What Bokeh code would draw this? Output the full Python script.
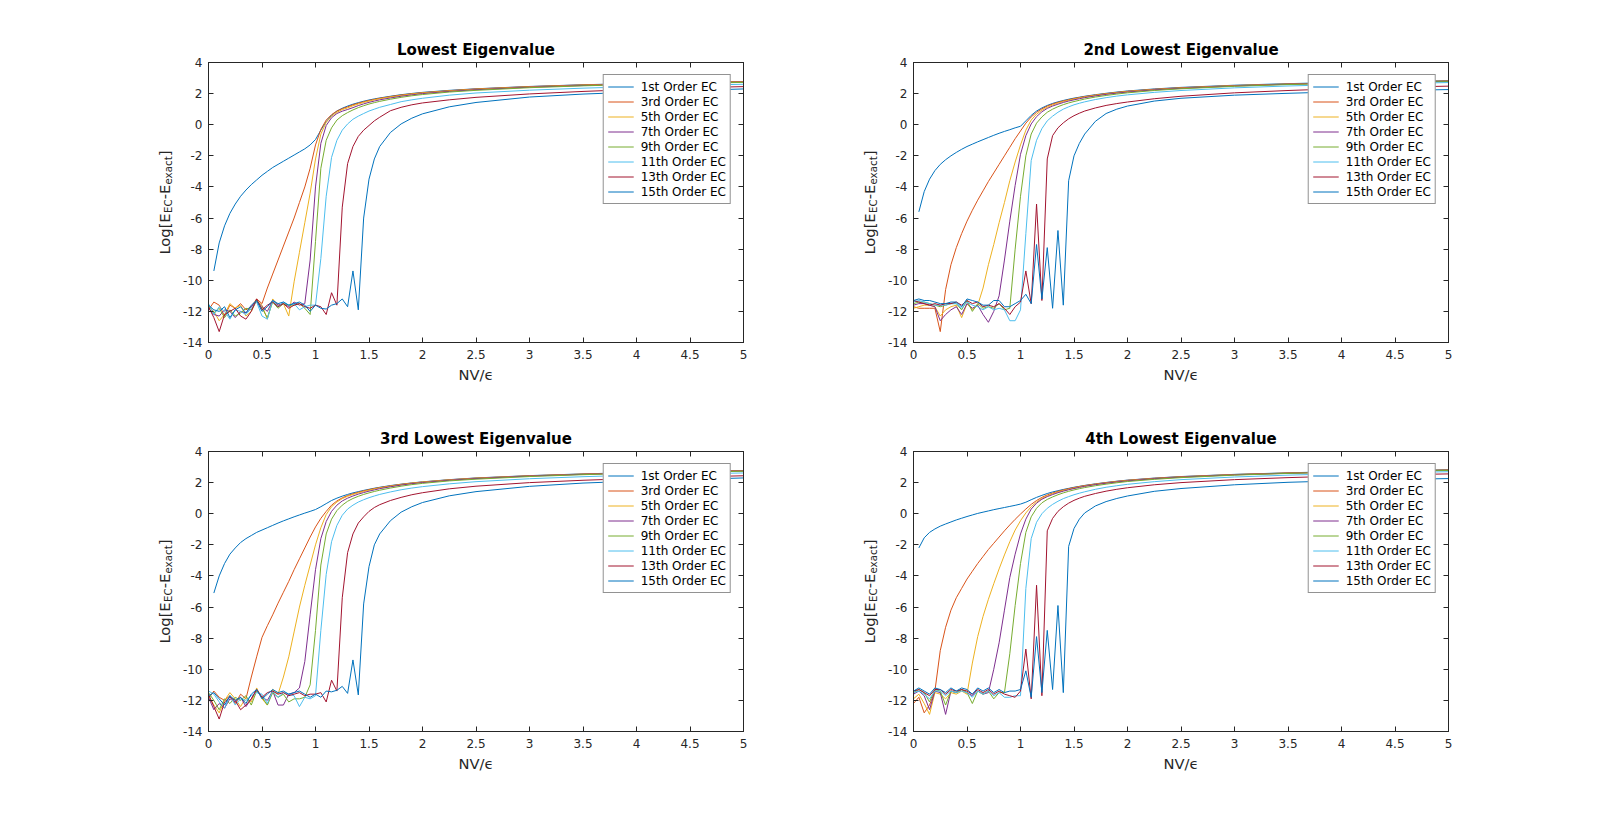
import math
from bokeh.plotting import figure
from bokeh.models import (Range1d, FixedTicker, LinearAxis, Legend, LegendItem,
                          CustomJSTickFormatter)
from bokeh.core.properties import value
from bokeh.layouts import column, row
from bokeh.embed import file_html
from bokeh.resources import INLINE

nan = float("nan")

# ---------------- data ----------------
X = [0.0, 0.05, 0.1, 0.15, 0.2, 0.25, 0.3, 0.35, 0.4, 0.45, 0.5,
     0.55, 0.6, 0.65, 0.7, 0.75, 0.8, 0.85, 0.9, 0.95, 1.0,
     1.05, 1.1, 1.15, 1.2, 1.25, 1.3, 1.35, 1.4, 1.45, 1.5, 1.55, 1.6,
     1.7, 1.8, 1.9, 2.0, 2.25, 2.5, 3.0, 3.5, 4.0, 4.5, 5.0]

ORDERS = ["1st Order EC", "3rd Order EC", "5th Order EC", "7th Order EC",
          "9th Order EC", "11th Order EC", "13th Order EC", "15th Order EC"]
COLORS = ["#0072BD", "#D95319", "#EDB120", "#7E2F8E",
          "#77AC30", "#4DBEEE", "#A2142F", "#0072BD"]
TITLES = ["Lowest Eigenvalue", "2nd Lowest Eigenvalue",
          "3rd Lowest Eigenvalue", "4th Lowest Eigenvalue"]

X_TICKS = [0, 0.5, 1, 1.5, 2, 2.5, 3, 3.5, 4, 4.5, 5]
X_TICK_LABELS = ["0", "0.5", "1", "1.5", "2", "2.5", "3", "3.5", "4", "4.5", "5"]
Y_TICKS = [-14, -12, -10, -8, -6, -4, -2, 0, 2, 4]
Y_TICK_LABELS = ["-14", "-12", "-10", "-8", "-6", "-4", "-2", "0", "2", "4"]
X_LABEL = "NV/\u03f5"
Y_LABEL_PARTS = [("Log[E", False), ("EC", True), ("-E", False), ("exact", True), ("]", False)]

# Panel 1: Lowest eigenvalue
P1_1 = [nan, -9.4, -7.6, -6.5, -5.7, -5.1, -4.6, -4.2, -3.85, -3.55, -3.25,
        -3.0, -2.75, -2.55, -2.35, -2.15, -1.95, -1.75, -1.55, -1.3, -0.95,
        -0.35, 0.2, 0.6, 0.88, 1.06, 1.2, 1.32, 1.42, 1.51, 1.59, 1.66, 1.72,
        1.83, 1.93, 2.01, 2.08, 2.21, 2.31, 2.46, 2.57, 2.65, 2.72, 2.78]
P1_3 = [-11.9, -11.4, -11.6, -12.3, -11.6, -11.8, -11.5, -11.9, -11.7, -11.2, -11.5,
        -10.5, -9.6, -8.7, -7.8, -6.9, -6.0, -5.0, -4.0, -2.8, -1.3,
        -0.3, 0.3, 0.65, 0.88, 1.03, 1.15, 1.28, 1.38, 1.48, 1.56, 1.63, 1.7,
        1.81, 1.91, 1.99, 2.06, 2.19, 2.3, 2.45, 2.56, 2.64, 2.71, 2.77]
P1_5 = [-11.7, -12.0, -12.6, -12.2, -11.5, -11.8, -11.6, -12.3, -12.0, -11.3, -11.6,
        -12.5, -11.2, -11.6, -11.5, -12.3, -10.1, -8.2, -6.3, -4.4, -2.2,
        -0.6, 0.15, 0.55, 0.8, 0.97, 1.08, 1.22, 1.33, 1.43, 1.52, 1.6, 1.67,
        1.78, 1.88, 1.97, 2.04, 2.17, 2.28, 2.43, 2.54, 2.63, 2.7, 2.76]
P1_7 = [-11.8, -12.2, -12.3, -11.9, -12.0, -12.4, -12.0, -12.1, -11.7, -11.3, -11.7,
        -12.0, -11.3, -11.6, -11.5, -11.7, -11.4, -11.6, -11.5, -8.7, -4.0,
        -1.2, -0.05, 0.45, 0.72, 0.87, 0.98, 1.1, 1.23, 1.34, 1.44, 1.52, 1.6,
        1.72, 1.83, 1.92, 2.0, 2.14, 2.25, 2.41, 2.52, 2.61, 2.68, 2.74]
P1_9 = [-11.6, -12.1, -11.8, -12.4, -11.9, -12.3, -12.1, -11.8, -11.9, -11.3, -11.8,
        -12.4, -11.4, -11.8, -11.5, -11.6, -11.6, -11.5, -11.8, -12.2, -7.5,
        -2.8, -1.0, -0.2, 0.3, 0.58, 0.78, 0.95, 1.1, 1.22, 1.33, 1.42, 1.5,
        1.64, 1.76, 1.86, 1.94, 2.1, 2.21, 2.38, 2.5, 2.59, 2.66, 2.72]
P1_11 = [-11.5, -12.2, -11.7, -12.0, -12.5, -11.9, -12.0, -12.2, -11.8, -11.4, -12.3,
         -12.5, -11.3, -11.7, -11.4, -11.6, -11.5, -11.9, -11.7, -11.6, -11.6,
         -8.6, -4.6, -2.1, -1.0, -0.35, 0.05, 0.35, 0.55, 0.72, 0.88, 1.0, 1.12,
         1.3, 1.48, 1.6, 1.7, 1.9, 2.04, 2.22, 2.35, 2.45, 2.53, 2.6]
P1_13 = [-11.7, -12.4, -13.3, -12.2, -12.0, -11.8, -12.3, -12.5, -12.0, -11.2, -11.9,
         -11.6, -11.4, -11.7, -11.5, -11.8, -11.6, -11.5, -11.7, -11.8, -11.6,
         -11.7, -12.2, -10.8, -11.6, -5.3, -2.5, -1.4, -0.75, -0.35, -0.05, 0.25, 0.48,
         0.9, 1.12, 1.28, 1.4, 1.6, 1.76, 1.98, 2.14, 2.27, 2.37, 2.45]
P1_15 = [-11.6, -11.9, -12.0, -11.7, -12.4, -11.9, -11.7, -12.1, -11.6, -11.3, -12.0,
         -11.7, -11.3, -11.5, -11.4, -11.6, -11.5, -11.4, -11.6, -12.0, -11.6,
         -11.8, -11.85, -11.6, -11.5, -11.2, -11.7, -9.4, -11.9, -6.0, -3.5, -2.2, -1.4,
         -0.5, 0.05, 0.42, 0.7, 1.15, 1.43, 1.78, 1.97, 2.1, 2.2, 2.3]

# Panel 2: 2nd lowest eigenvalue
P2_1 = [nan, -5.6, -4.3, -3.5, -2.95, -2.55, -2.25, -2.0, -1.78, -1.58, -1.4,
        -1.25, -1.1, -0.96, -0.82, -0.68, -0.55, -0.43, -0.32, -0.2, -0.1,
        0.25, 0.6, 0.88, 1.08, 1.24, 1.37, 1.47, 1.56, 1.64, 1.71, 1.77, 1.83,
        1.93, 2.02, 2.1, 2.17, 2.3, 2.4, 2.54, 2.64, 2.72, 2.78, 2.83]
P2_3 = [-11.7, -11.8, -11.8, -11.8, -11.8, -13.3, -10.6, -9.0, -7.9, -7.0, -6.2,
        -5.5, -4.85, -4.25, -3.65, -3.1, -2.55, -2.0, -1.45, -0.9, -0.4,
        0.1, 0.5, 0.8, 1.02, 1.2, 1.33, 1.44, 1.53, 1.61, 1.68, 1.75, 1.81,
        1.91, 2.0, 2.08, 2.15, 2.28, 2.38, 2.52, 2.62, 2.7, 2.76, 2.81]
P2_5 = [-11.8, -11.7, -11.6, -11.6, -11.7, -12.3, -11.9, -11.7, -11.6, -12.4, -11.5,
        -11.9, -11.6, -10.5, -9.0, -7.7, -6.3, -5.0, -3.6, -2.4, -1.3,
        -0.35, 0.3, 0.68, 0.93, 1.12, 1.27, 1.39, 1.49, 1.57, 1.65, 1.72, 1.78,
        1.89, 1.98, 2.06, 2.13, 2.26, 2.36, 2.51, 2.61, 2.69, 2.75, 2.8]
P2_7 = [-11.6, -11.5, -11.5, -11.6, -11.7, -12.6, -12.2, -11.9, -11.7, -12.2, -11.5,
        -11.8, -11.6, -12.2, -12.7, -12.0, -11.0, -8.7, -6.2, -3.9, -1.9,
        -0.7, 0.05, 0.52, 0.83, 1.05, 1.2, 1.32, 1.43, 1.52, 1.6, 1.67, 1.74,
        1.85, 1.95, 2.03, 2.1, 2.24, 2.34, 2.49, 2.6, 2.68, 2.74, 2.79]
P2_9 = [-11.5, -11.4, -11.4, -11.5, -11.6, -11.7, -11.6, -11.5, -11.5, -11.9, -11.3,
        -12.0, -11.5, -11.8, -11.7, -11.8, -11.5, -11.9, -11.8, -8.0, -4.6,
        -2.0, -0.6, 0.1, 0.5, 0.8, 1.0, 1.16, 1.29, 1.4, 1.49, 1.57, 1.65,
        1.78, 1.88, 1.97, 2.05, 2.2, 2.31, 2.47, 2.58, 2.66, 2.72, 2.77]
P2_11 = [-11.4, -11.3, -11.4, -11.5, -11.6, -11.6, -11.6, -11.5, -11.5, -11.8, -11.4,
         -11.6, -11.7, -11.9, -11.7, -11.9, -11.8, -11.9, -12.6, -12.6, -11.9,
         -7.0, -2.3, -1.0, -0.25, 0.25, 0.55, 0.8, 1.0, 1.15, 1.28, 1.38, 1.47,
         1.62, 1.74, 1.84, 1.92, 2.08, 2.2, 2.37, 2.49, 2.58, 2.65, 2.71]
P2_13 = [-11.3, -11.4, -11.5, -11.6, -11.5, -11.6, -11.5, -11.5, -11.4, -11.6, -11.3,
         -11.5, -11.4, -11.7, -11.6, -11.7, -11.5, -11.8, -12.2, -11.7, -11.4,
         -9.4, -11.5, -5.1, -11.3, -2.2, -0.7, -0.2, 0.12, 0.38, 0.58, 0.74, 0.88,
         1.08, 1.24, 1.36, 1.46, 1.67, 1.83, 2.05, 2.2, 2.32, 2.41, 2.48]
P2_15 = [-11.3, -11.2, -11.3, -11.3, -11.4, -11.5, -11.5, -11.4, -11.4, -11.7, -11.2,
         -11.3, -11.4, -11.6, -11.6, -11.3, -11.3, -11.7, -11.7, -11.5, -11.3,
         -10.9, -11.5, -7.7, -11.2, -7.9, -11.8, -6.8, -11.6, -3.6, -2.0, -1.2, -0.6,
         0.22, 0.72, 1.0, 1.2, 1.52, 1.7, 1.9, 2.02, 2.12, 2.2, 2.26]

# Panel 3: 3rd lowest eigenvalue
P3_1 = [nan, -5.1, -4.0, -3.2, -2.6, -2.2, -1.85, -1.6, -1.4, -1.2, -1.05,
        -0.9, -0.75, -0.6, -0.46, -0.33, -0.2, -0.08, 0.04, 0.15, 0.27,
        0.45, 0.65, 0.85, 1.0, 1.13, 1.24, 1.34, 1.42, 1.5, 1.57, 1.64, 1.7,
        1.81, 1.9, 1.98, 2.05, 2.19, 2.3, 2.45, 2.56, 2.65, 2.72, 2.78]
P3_3 = [-11.9, -11.4, -11.8, -12.0, -11.7, -12.2, -11.6, -11.9, -10.5, -9.2, -7.95,
        -7.2, -6.5, -5.75, -5.05, -4.35, -3.6, -2.9, -2.2, -1.5, -0.85,
        -0.3, 0.15, 0.55, 0.82, 1.02, 1.17, 1.28, 1.38, 1.47, 1.55, 1.62, 1.68,
        1.79, 1.89, 1.97, 2.04, 2.18, 2.29, 2.44, 2.55, 2.64, 2.71, 2.77]
P3_5 = [-11.7, -12.3, -12.8, -12.0, -11.5, -11.9, -12.4, -11.8, -12.1, -11.2, -11.9,
        -12.3, -11.3, -11.6, -10.5, -9.2, -7.6, -6.0, -4.6, -3.3, -2.0,
        -0.9, -0.05, 0.45, 0.75, 0.97, 1.12, 1.24, 1.34, 1.43, 1.51, 1.59, 1.66,
        1.77, 1.87, 1.96, 2.03, 2.17, 2.28, 2.43, 2.54, 2.63, 2.7, 2.76]
P3_7 = [-11.8, -12.6, -12.2, -12.5, -11.9, -12.1, -11.8, -12.4, -11.9, -11.3, -11.8,
        -12.0, -11.4, -12.3, -12.3, -11.6, -11.5, -11.2, -9.5, -6.5, -3.6,
        -1.6, -0.5, 0.15, 0.55, 0.82, 1.0, 1.14, 1.26, 1.36, 1.45, 1.53, 1.61,
        1.73, 1.84, 1.93, 2.0, 2.15, 2.26, 2.42, 2.53, 2.62, 2.69, 2.75]
P3_9 = [-11.5, -12.0, -12.6, -11.9, -12.2, -11.8, -12.0, -11.7, -12.3, -11.4, -11.8,
        -12.3, -11.5, -11.8, -11.6, -12.1, -11.9, -11.9, -11.8, -11.0, -7.5,
        -3.3, -1.3, -0.35, 0.2, 0.55, 0.8, 0.98, 1.12, 1.24, 1.34, 1.43, 1.51,
        1.65, 1.77, 1.87, 1.95, 2.11, 2.22, 2.39, 2.51, 2.6, 2.67, 2.73]
P3_11 = [-11.4, -11.6, -12.1, -12.5, -11.7, -12.3, -11.9, -12.0, -11.7, -11.5, -11.6,
         -12.2, -11.4, -11.8, -11.5, -11.6, -11.7, -12.4, -11.8, -11.9, -11.7,
         -7.5, -3.9, -1.8, -0.75, -0.1, 0.3, 0.55, 0.75, 0.9, 1.03, 1.14, 1.24,
         1.4, 1.54, 1.65, 1.74, 1.92, 2.06, 2.25, 2.38, 2.48, 2.56, 2.62]
P3_13 = [-11.6, -12.4, -13.2, -12.1, -11.8, -12.0, -12.6, -12.3, -11.9, -11.3, -11.8,
         -11.5, -11.4, -11.6, -11.5, -11.7, -11.6, -11.5, -11.7, -11.6, -11.6,
         -11.5, -12.1, -10.7, -11.4, -5.4, -2.5, -1.3, -0.6, -0.2, 0.15, 0.4, 0.58,
         0.85, 1.05, 1.22, 1.35, 1.6, 1.77, 2.0, 2.15, 2.27, 2.36, 2.44]
P3_15 = [-11.7, -11.5, -11.9, -12.3, -11.7, -12.0, -11.8, -12.2, -11.6, -11.3, -11.9,
         -11.6, -11.3, -11.5, -11.4, -11.6, -11.5, -11.4, -11.6, -11.8, -11.6,
         -11.8, -11.4, -11.45, -11.35, -11.1, -11.55, -9.4, -11.65, -5.8, -3.4, -2.0, -1.3,
         -0.45, 0.1, 0.45, 0.72, 1.15, 1.42, 1.76, 1.97, 2.1, 2.2, 2.3]

# Panel 4: 4th lowest eigenvalue
P4_1 = [nan, -2.2, -1.55, -1.2, -0.98, -0.8, -0.66, -0.53, -0.4, -0.29, -0.18,
        -0.08, 0.02, 0.1, 0.18, 0.26, 0.33, 0.4, 0.47, 0.54, 0.62,
        0.74, 0.9, 1.05, 1.18, 1.3, 1.4, 1.48, 1.56, 1.63, 1.7, 1.76, 1.82,
        1.92, 2.01, 2.09, 2.16, 2.29, 2.39, 2.53, 2.63, 2.71, 2.77, 2.83]
P4_3 = [-12.2, -11.8, -12.8, -12.3, -11.4, -8.8, -7.3, -6.2, -5.4, -4.8, -4.2,
        -3.7, -3.2, -2.75, -2.3, -1.9, -1.5, -1.1, -0.72, -0.36, -0.02,
        0.3, 0.6, 0.85, 1.05, 1.21, 1.33, 1.44, 1.53, 1.61, 1.68, 1.75, 1.81,
        1.91, 2.0, 2.08, 2.15, 2.28, 2.38, 2.52, 2.62, 2.7, 2.76, 2.81]
P4_5 = [-11.9, -11.6, -12.2, -12.9, -11.5, -11.6, -11.9, -11.5, -11.6, -11.4, -11.6,
        -9.6, -7.9, -6.6, -5.5, -4.5, -3.55, -2.65, -1.8, -1.05, -0.45,
        0.05, 0.45, 0.75, 0.98, 1.15, 1.28, 1.39, 1.49, 1.57, 1.65, 1.72, 1.78,
        1.89, 1.98, 2.06, 2.13, 2.26, 2.36, 2.51, 2.61, 2.69, 2.75, 2.8]
P4_7 = [-11.6, -11.4, -11.7, -12.6, -11.4, -11.5, -12.9, -11.4, -11.5, -11.3, -11.5,
        -11.7, -11.4, -11.6, -11.5, -10.0, -8.3, -6.2, -4.1, -2.6, -1.3,
        -0.35, 0.3, 0.68, 0.93, 1.1, 1.23, 1.35, 1.45, 1.54, 1.62, 1.69, 1.76,
        1.87, 1.96, 2.04, 2.11, 2.25, 2.35, 2.5, 2.6, 2.68, 2.74, 2.79]
P4_9 = [-11.5, -11.3, -11.5, -12.1, -11.3, -11.4, -12.3, -11.4, -11.5, -11.3, -11.5,
        -12.2, -11.4, -11.6, -11.4, -11.9, -11.5, -11.5, -9.0, -5.9, -3.2,
        -1.2, -0.2, 0.35, 0.7, 0.92, 1.08, 1.22, 1.34, 1.44, 1.53, 1.61, 1.68,
        1.8, 1.9, 1.99, 2.07, 2.21, 2.32, 2.48, 2.59, 2.67, 2.73, 2.78]
P4_11 = [-11.5, -11.4, -11.6, -11.9, -11.4, -11.4, -11.7, -11.4, -11.5, -11.4, -11.5,
         -11.8, -11.4, -11.6, -11.4, -11.7, -11.5, -11.8, -11.8, -11.7, -11.7,
         -4.8, -1.6, -0.55, 0.0, 0.35, 0.6, 0.8, 0.97, 1.1, 1.22, 1.32, 1.41,
         1.57, 1.7, 1.8, 1.89, 2.06, 2.19, 2.36, 2.48, 2.57, 2.64, 2.7]
P4_13 = [-11.4, -11.3, -11.5, -11.7, -11.3, -11.3, -11.6, -11.3, -11.4, -11.3, -11.4,
         -11.6, -11.3, -11.5, -11.3, -11.6, -11.4, -11.6, -11.7, -11.8, -11.4,
         -8.7, -11.9, -4.6, -11.7, -1.1, -0.3, 0.15, 0.45, 0.68, 0.86, 1.0, 1.12,
         1.3, 1.45, 1.57, 1.67, 1.86, 2.0, 2.19, 2.32, 2.42, 2.5, 2.56]
P4_15 = [-11.4, -11.2, -11.4, -11.6, -11.2, -11.3, -11.5, -11.2, -11.4, -11.2, -11.3,
         -11.6, -11.2, -11.4, -11.2, -11.5, -11.3, -11.5, -11.4, -11.4, -11.3,
         -10.1, -11.8, -7.9, -11.5, -7.5, -11.3, -5.9, -11.5, -2.1, -0.95, -0.35, 0.05,
         0.5, 0.78, 0.98, 1.14, 1.44, 1.62, 1.86, 2.02, 2.12, 2.2, 2.26]

PANELS = [
    [P1_1, P1_3, P1_5, P1_7, P1_9, P1_11, P1_13, P1_15],
    [P2_1, P2_3, P2_5, P2_7, P2_9, P2_11, P2_13, P2_15],
    [P3_1, P3_3, P3_5, P3_7, P3_9, P3_11, P3_13, P3_15],
    [P4_1, P4_3, P4_5, P4_7, P4_9, P4_11, P4_13, P4_15],
]
for panel in PANELS:
    for s in panel:
        assert len(s) == len(X), len(s)

# ---------------- style ----------------
FONT = "DejaVu Sans"
AXIS_COLOR = "#262626"
FRAME_W, FRAME_H = 535, 280
X_MIN, X_MAX, Y_MIN, Y_MAX = 0, 5, -14, 4
BOTTOM = 55
MAIN_PX, SUB_PX = 14.7, 10.3
EM = {"Log[E": 2.837, "EC": 1.330, "-E": 0.993, "exact": 2.762, "]": 0.390}
LAB_W = 38          # width of the strip that carries the y-axis title
LAB_BASE, LAB_SUB = 24.0, 27.5
PANEL_LEFT = 30


def style_axis(ax, ticks, labels, show_labels=True):
    ax.ticker = FixedTicker(ticks=ticks)
    ax.major_tick_in = 5
    ax.major_tick_out = 0
    ax.minor_tick_line_color = None
    ax.axis_line_color = AXIS_COLOR
    ax.major_tick_line_color = AXIS_COLOR
    ax.major_label_text_color = AXIS_COLOR
    ax.major_label_text_font = FONT
    ax.major_label_text_font_size = "12px"
    if show_labels:
        ax.major_label_overrides = dict(zip(ticks, labels))
    else:
        ax.formatter = CustomJSTickFormatter(code="return '';")
        ax.major_label_standoff = 0


def build_ylabel(left, top):
    f = figure(frame_width=LAB_W, frame_height=FRAME_H,
               min_border_left=left, min_border_right=0,
               min_border_top=top, min_border_bottom=BOTTOM,
               x_range=Range1d(0, LAB_W), y_range=Range1d(0, FRAME_H),
               x_axis_type=None, y_axis_type=None,
               output_backend="svg", toolbar_location=None)
    f.outline_line_color = None
    f.background_fill_color = "white"
    f.border_fill_color = "white"
    total = sum(EM[t] * (SUB_PX if sub else MAIN_PX) for t, sub in Y_LABEL_PARTS)
    y = FRAME_H / 2 - total / 2
    mx, my, mt, sx, sy, st = [], [], [], [], [], []
    for t, sub in Y_LABEL_PARTS:
        size = SUB_PX if sub else MAIN_PX
        if sub:
            sx.append(LAB_SUB); sy.append(y); st.append(t)
        else:
            mx.append(LAB_BASE); my.append(y); mt.append(t)
        y += EM[t] * size
    f.text(x=mx, y=my, text=mt, angle=math.pi / 2, text_align="left",
           text_baseline="alphabetic", text_font=value(FONT),
           text_font_size=value(f"{MAIN_PX}px"), text_color=AXIS_COLOR)
    f.text(x=sx, y=sy, text=st, angle=math.pi / 2, text_align="left",
           text_baseline="alphabetic", text_font=value(FONT),
           text_font_size=value(f"{SUB_PX}px"), text_color=AXIS_COLOR)
    return f


def build(idx, left_border, top_border):
    p = figure(title=TITLES[idx], frame_width=FRAME_W, frame_height=FRAME_H,
               min_border_left=left_border, min_border_right=30,
               min_border_top=top_border, min_border_bottom=BOTTOM,
               x_range=Range1d(X_MIN, X_MAX), y_range=Range1d(Y_MIN, Y_MAX),
               output_backend="svg", toolbar_location=None)
    p.background_fill_color = "white"
    p.border_fill_color = "white"
    p.outline_line_color = AXIS_COLOR
    p.xgrid.visible = False
    p.ygrid.visible = False
    p.title.align = "center"
    p.title.text_font = FONT
    p.title.text_font_size = "15px"
    p.title.text_font_style = "bold"
    p.title.text_color = "black"
    p.title.standoff = 8

    style_axis(p.xaxis[0], X_TICKS, X_TICK_LABELS)
    style_axis(p.yaxis[0], Y_TICKS, Y_TICK_LABELS)
    p.xaxis[0].major_label_standoff = 7
    p.yaxis[0].major_label_standoff = 6
    p.xaxis[0].axis_label = X_LABEL
    p.xaxis[0].axis_label_text_font = FONT
    p.xaxis[0].axis_label_text_font_size = "14.7px"
    p.xaxis[0].axis_label_text_font_style = "normal"
    p.xaxis[0].axis_label_text_color = AXIS_COLOR
    p.xaxis[0].axis_label_standoff = 4

    top = LinearAxis()
    style_axis(top, X_TICKS, X_TICK_LABELS, show_labels=False)
    p.add_layout(top, "above")
    right = LinearAxis()
    style_axis(right, Y_TICKS, Y_TICK_LABELS, show_labels=False)
    p.add_layout(right, "right")

    items = []
    for k, ys in enumerate(PANELS[idx]):
        r = p.line(X, ys, line_color=COLORS[k], line_width=1)
        items.append(LegendItem(label=ORDERS[k], renderers=[r]))
    leg = Legend(items=items, location="top_right")
    leg.label_text_font = FONT
    leg.label_text_font_size = "12px"
    leg.label_text_color = "black"
    leg.border_line_color = AXIS_COLOR
    leg.border_line_width = 1
    leg.background_fill_color = "white"
    leg.background_fill_alpha = 1.0
    leg.padding = 4
    leg.spacing = 0
    leg.label_height = 15
    leg.glyph_height = 15
    leg.glyph_width = 26
    leg.label_standoff = 7
    leg.margin = 12
    p.add_layout(leg)
    return p


# frames: panel 1 at x 208, panel 2 at x 913; row 1 at y 62, row 2 at y 451
lA = build_ylabel(140, 62)
pA = build(0, PANEL_LEFT, 62)
lB = build_ylabel(72, 62)
pB = build(1, PANEL_LEFT, 62)
lC = build_ylabel(140, 54)
pC = build(2, PANEL_LEFT, 54)
lD = build_ylabel(72, 54)
pD = build(3, PANEL_LEFT, 54)

layout = column(row(lA, pA, lB, pB), row(lC, pC, lD, pD))
open("out.html", "w").write(file_html(layout, INLINE))
